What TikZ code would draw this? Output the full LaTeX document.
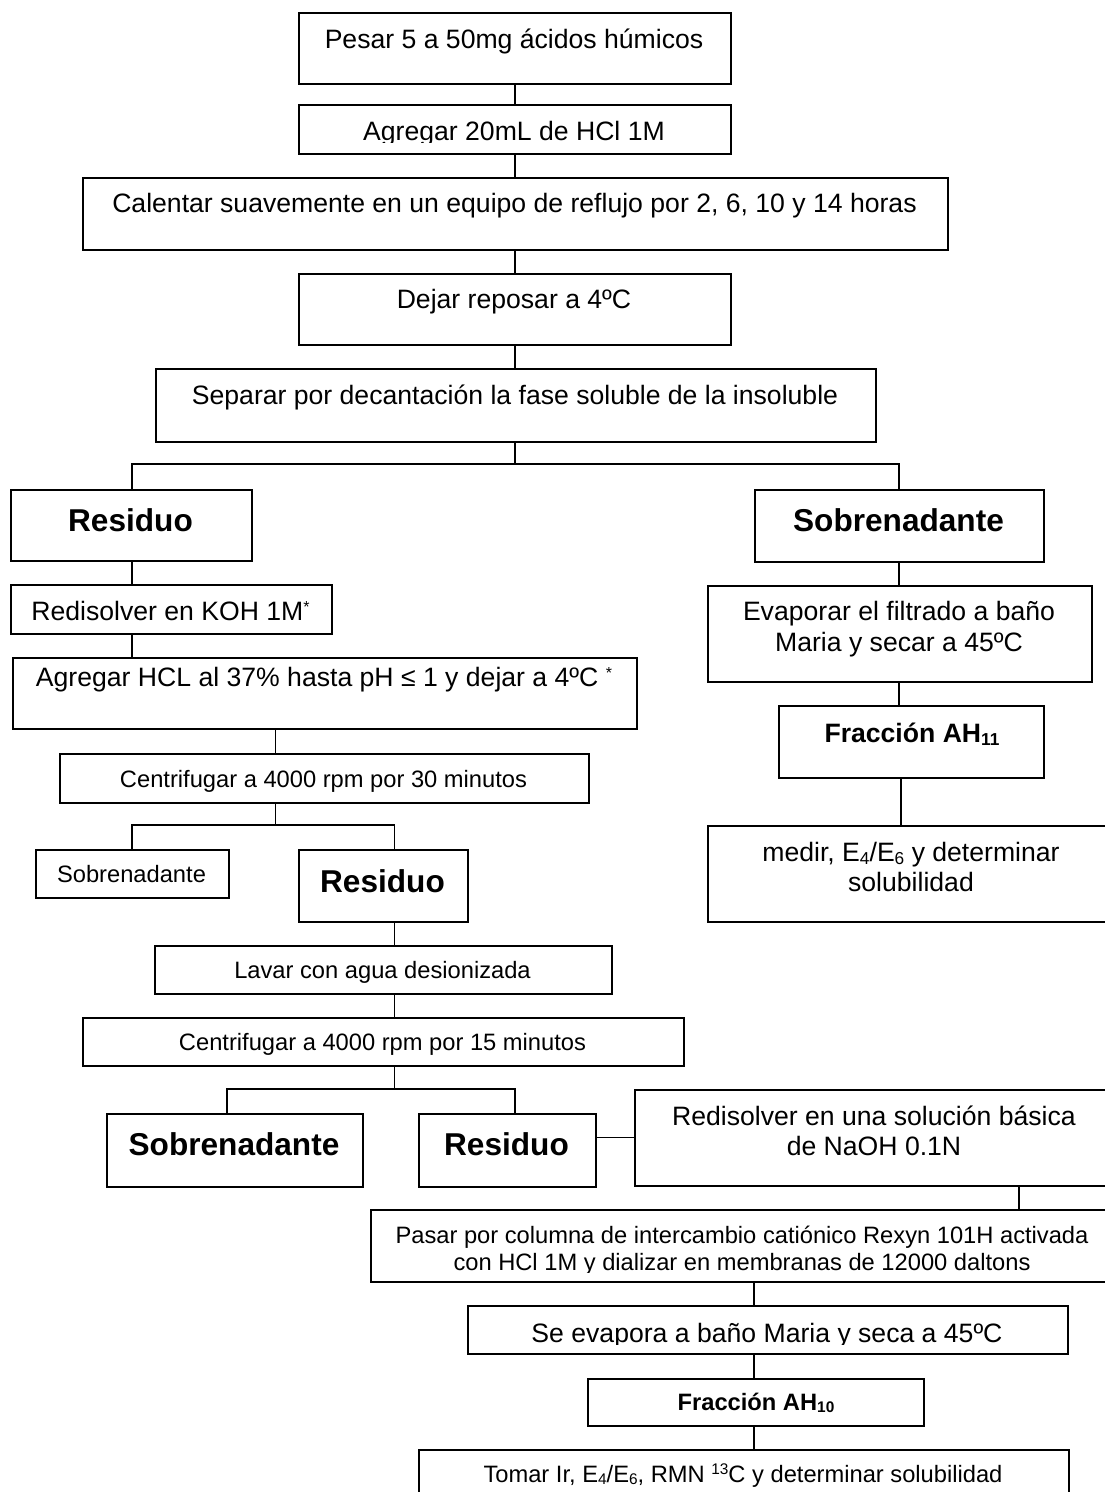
\documentclass[tikz,border=0pt]{standalone}
\usepackage{fontspec}
\setmainfont{Liberation Sans}
\usepackage{graphicx}
% lowered small digits, raised small digits, small raised asterisk
\newcommand\lo[1]{\raisebox{-0.12em}{\scalebox{0.65}{#1}}}
\newcommand\hi[1]{\raisebox{0.3em}{\scalebox{0.65}{#1}}}
\newcommand\fnmark{\raisebox{0.3em}{\scalebox{0.6}{*}}}
% box: name, left, top, right, bottom (top/bottom measured downwards)
\newcommand\bx[5]{\node[box, anchor=north west, minimum width={#4-#2}, minimum height={#5-#3}] (#1) at (#2,-#3) {};}
\begin{document}
\begin{tikzpicture}[x=1pt,y=1pt,
  box/.style={draw, line width=1.7pt, inner sep=0pt, fill=none},
  link/.style={draw, line width=1.3pt},
  txt/.style={anchor=base, inner sep=0pt, font=\fontsize{26.6}{30}\selectfont},
  txs/.style={anchor=base, inner sep=0pt, font=\fontsize{23.7}{27}\selectfont},
  big/.style={anchor=base, inner sep=0pt, font=\fontsize{31.6}{36}\selectfont\bfseries},
  bld/.style={anchor=base, inner sep=0pt, font=\fontsize{26.6}{30}\selectfont\bfseries},
  bls/.style={anchor=base, inner sep=0pt, font=\fontsize{23.7}{27}\selectfont\bfseries}]
\useasboundingbox (0,0) rectangle (1105,-1492);

% ---- boxes ----
\bx{B1}{298}{12}{730}{83}
\bx{B2}{298}{104}{730}{153}
\bx{B3}{82}{177}{947}{249}
\bx{B4}{298}{273}{730}{344}
\bx{B5}{155}{368}{875}{441}
\bx{Res1}{10}{489}{251}{560}
\bx{SobR}{754}{489}{1043}{561}
\bx{KOH}{10}{584}{331}{633}
\bx{HCL}{12}{657}{636}{728}
\bx{C30}{59}{753}{588}{802}
\bx{SobS}{35}{849}{228}{897}
\bx{Res2}{298}{849}{467}{921}
\bx{Lav}{154}{945}{611}{993}
\bx{C15}{82}{1017}{683}{1065}
\bx{SobB}{106}{1113}{362}{1186}
\bx{Res3}{418}{1113}{595}{1186}
\bx{NaOH}{634}{1089}{1114}{1185}
\bx{Pas}{370}{1209}{1114}{1281}
\bx{SeEv}{467}{1305}{1067}{1353}
\bx{AH10}{587}{1378}{923}{1425}
\bx{Tom}{418}{1449}{1068}{1510}
\bx{Evap}{707}{585}{1091}{681}
\bx{AH11}{778}{705}{1043}{777}
\bx{Med}{707}{825}{1115}{921}

% ---- texts ----
\node[txt] (tB1) at (514,-48) {Pesar 5 a 50mg ácidos húmicos};
\begin{scope}
  \clip (298,-104) rectangle (730,-142);
  \node[txt] (tB2) at (514,-140) {Agregar 20mL de HCl 1M};
\end{scope}
\node[txt] (tB3) at (514.5,-212) {Calentar suavemente en un equipo de reflujo por 2, 6, 10 y 14 horas};
\node[txt] (tB4) at (514,-308) {Dejar reposar a 4ºC};
\node[txt] (tB5) at (515,-404) {Separar por decantación la fase soluble de la insoluble};
\node[big] (tRes1) at (130.5,-531) {Residuo};
\node[big] (tSobR) at (898.5,-531) {Sobrenadante};
\node[txt] (tKOH) at (170.5,-620) {Redisolver en KOH 1M\fnmark};
\node[txt] (tHCL) at (324,-686) {Agregar HCL al 37\% hasta pH ≤ 1 y dejar a 4ºC \fnmark};
\node[txs] (tC30) at (323.5,-787) {Centrifugar a 4000 rpm por 30 minutos};
\node[txs] (tSobS) at (131.5,-882) {Sobrenadante};
\node[big] (tRes2) at (382.5,-892) {Residuo};
\node[txs] (tLav) at (382.5,-978) {Lavar con agua desionizada};
\node[txs] (tC15) at (382.5,-1050) {Centrifugar a 4000 rpm por 15 minutos};
\node[big] (tSobB) at (234,-1155) {Sobrenadante};
\node[big] (tRes3) at (506.5,-1155) {Residuo};
\node[txt] (tNaOHa) at (874,-1125) {Redisolver en una solución básica};
\node[txt] (tNaOHb) at (874,-1155) {de NaOH 0.1N};
\node[txs] (tPasa) at (742,-1243) {Pasar por columna de intercambio catiónico Rexyn 101H activada};
\begin{scope}
  \clip (370,-1209) rectangle (1105,-1272);
  \node[txs] (tPasb) at (742,-1270) {con HCl 1M y dializar en membranas de 12000 daltons};
\end{scope}
\begin{scope}
  \clip (467,-1305) rectangle (1067,-1344);
  \node[txt] (tSeEv) at (767,-1342) {Se evapora a baño Maria y seca a 45ºC};
\end{scope}
\node[bls] (tAH10) at (756,-1410) {Fracción AH\lo{10}};
\node[txs] (tTom) at (743,-1482) {Tomar Ir, E\lo{4}/E\lo{6}, RMN \hi{13}C y determinar solubilidad};
\node[txt] (tEvapa) at (899,-620) {Evaporar el filtrado a baño};
\node[txt] (tEvapb) at (899,-651) {Maria y secar a 45ºC};
\node[bld] (tAH11) at (912,-742) {Fracción AH\lo{11}};
\node[txt] (tMeda) at (911,-861) {medir, E\lo{4}/E\lo{6} y determinar};
\node[txt] (tMedb) at (911,-891) {solubilidad};

% ---- connector columns and junctions ----
\coordinate (kA) at (515,0);
\coordinate (kB) at (132,0);
\coordinate (kC) at (275.5,0);
\coordinate (kD) at (394.5,0);
\coordinate (kE) at (227,0);
\coordinate (kF) at (1019,0);
\coordinate (kG) at (754,0);
\coordinate (kH) at (899,0);
\coordinate (kI) at (901,0);
\coordinate (j1) at (515,-464);
\coordinate (j2) at (275.5,-825);
\coordinate (j3) at (394.5,-1089);

% ---- connectors ----
\draw[link] (B1.south -| kA) -- (B2.north -| kA);
\draw[link] (B2.south -| kA) -- (B3.north -| kA);
\draw[link] (B3.south -| kA) -- (B4.north -| kA);
\draw[link] (B4.south -| kA) -- (B5.north -| kA);
\draw[link] (B5.south -| kA) -- (j1);
\draw[link] (Res1.north -| kB) |- (j1) -| (SobR.north -| kH);

\draw[link] (Res1.south -| kB) -- (KOH.north -| kB);
\draw[link] (KOH.south -| kB) -- (HCL.north -| kB);
\draw[link] (HCL.south -| kC) -- (C30.north -| kC);
\draw[link] (C30.south -| kC) -- (j2);
\draw[link] (SobS.north -| kB) |- (j2) -| (Res2.north -| kD);

\draw[link] (Res2.south -| kD) -- (Lav.north -| kD);
\draw[link] (Lav.south -| kD) -- (C15.north -| kD);
\draw[link] (C15.south -| kD) -- (j3);
\draw[link] (SobB.north -| kE) |- (j3) -| (Res3.north -| kA);

\coordinate (r3) at ([yshift=13pt]Res3.east);
\draw[link] (r3) -- (r3 -| NaOH.west);
\draw[link] (NaOH.south -| kF) -- (Pas.north -| kF);
\draw[link] (Pas.south -| kG) -- (SeEv.north -| kG);
\draw[link] (SeEv.south -| kG) -- (AH10.north -| kG);
\draw[link] (AH10.south -| kG) -- (Tom.north -| kG);

\draw[link] (SobR.south -| kH) -- (Evap.north -| kH);
\draw[link] (Evap.south -| kH) -- (AH11.north -| kH);
\draw[link] (AH11.south -| kI) -- (Med.north -| kI);
\end{tikzpicture}
\end{document}
